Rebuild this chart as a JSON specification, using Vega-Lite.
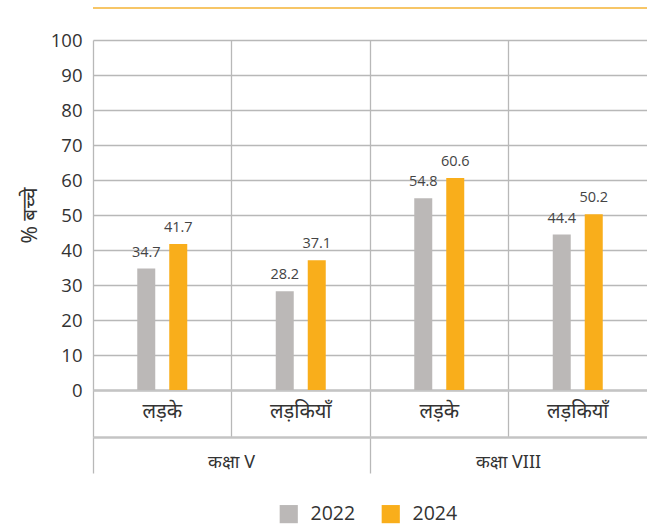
{
  "$schema": "https://vega.github.io/schema/vega-lite/v6.json",
  "width": 554,
  "height": 350,
  "padding": {"left": 19, "top": 7, "right": 0, "bottom": 0},
  "config": {
    "font": "Open Sans",
    "view": {"stroke": null},
    "axis": {"labelColor": "#333333", "titleColor": "#333333", "titleFontWeight": "normal"}
  },
  "datasets": {
    "bars": [
      {"group": "V-boys", "year": "2022", "value": 34.7},
      {"group": "V-boys", "year": "2024", "value": 41.7},
      {"group": "V-girls", "year": "2022", "value": 28.2},
      {"group": "V-girls", "year": "2024", "value": 37.1},
      {"group": "VIII-boys", "year": "2022", "value": 54.8},
      {"group": "VIII-boys", "year": "2024", "value": 60.6},
      {"group": "VIII-girls", "year": "2022", "value": 44.4},
      {"group": "VIII-girls", "year": "2024", "value": 50.2}
    ],
    "classes": [
      {"class": "कक्षा V"},
      {"class": "कक्षा VIII"}
    ],
    "topline": [
      {"level": 109.14}
    ]
  },
  "layer": [
    {
      "data": {"name": "bars"},
      "encoding": {
        "x": {
          "field": "group", "type": "nominal", "sort": null,
          "scale": {"paddingInner": 0, "paddingOuter": 0},
          "axis": {
            "title": null, "orient": "bottom",
            "bandPosition": 0, "grid": true, "gridColor": "#b8b8b8", "gridWidth": 1.3,
            "domainColor": "#c4c4c4", "domainWidth": 2.5,
            "ticks": true, "tickSize": 47, "tickColor": "#b8b8b8", "tickWidth": 1.3,
            "labelAngle": 0, "labelPadding": -36,
            "labelFontSize": 20, "labelFont": "Noto Sans",
            "labelExpr": "(datum.value == 'V-boys' || datum.value == 'VIII-boys') ? 'लड़के' : 'लड़कियाँ'"
          }
        },
        "xOffset": {
          "field": "year", "type": "nominal",
          "scale": {"domain": ["pad1", "2022", "2024", "pad2"], "paddingInner": 0.4375, "paddingOuter": 0.383}
        },
        "y": {
          "field": "value", "type": "quantitative",
          "scale": {"domain": [0, 100], "nice": false},
          "axis": {
            "title": "% बच्चे", "titleFontSize": 21, "titleFont": "Noto Sans", "titlePadding": 10,
            "values": [0, 10, 20, 30, 40, 50, 60, 70, 80, 90, 100],
            "domain": false, "ticks": false, "labelPadding": 11,
            "labelFontSize": 18.5, "grid": true, "gridColor": "#b8b8b8", "gridWidth": 1.3
          }
        }
      },
      "layer": [
        {
          "mark": {"type": "bar"},
          "encoding": {
            "color": {
              "field": "year", "type": "nominal",
              "scale": {"domain": ["2022", "2024"], "range": ["#bbb8b7", "#f9ae1b"]},
              "legend": {
                "title": null, "orient": "none", "direction": "horizontal",
                "legendX": 186, "legendY": 464,
                "symbolType": "square", "symbolSize": 330, "symbolStrokeWidth": 0,
                "labelFontSize": 19.5, "labelColor": "#333333", "columnPadding": 25, "labelOffset": 12
              }
            }
          }
        },
        {
          "mark": {"type": "text", "baseline": "bottom", "dy": -9, "fontSize": 14.5, "color": "#444444"},
          "encoding": {"text": {"field": "value", "type": "quantitative", "format": ".1f"}}
        }
      ]
    },
    {
      "data": {"name": "classes"},
      "mark": {"type": "tick", "opacity": 0},
      "encoding": {
        "x": {
          "field": "class", "type": "nominal", "sort": null,
          "scale": {"paddingInner": 0, "paddingOuter": 0},
          "axis": {
            "title": null, "orient": "bottom", "offset": 47,
            "domainColor": "#c4c4c4", "domainWidth": 2.5,
            "bandPosition": 0, "tickSize": 36, "tickColor": "#b8b8b8", "tickWidth": 1.3,
            "labelAngle": 0, "labelPadding": -20,
            "labelFontSize": 18, "labelFont": "Noto Sans"
          }
        }
      }
    },
    {
      "data": {"name": "topline"},
      "mark": {"type": "rule", "color": "#f5b335", "strokeWidth": 1.5},
      "encoding": {
        "y": {
          "field": "level", "type": "quantitative",
          "scale": {"domain": [0, 100], "nice": false},
          "axis": {
            "title": "% बच्चे", "titleFontSize": 21, "titleFont": "Noto Sans", "titlePadding": 10,
            "values": [0, 10, 20, 30, 40, 50, 60, 70, 80, 90, 100],
            "domain": false, "ticks": false, "labelPadding": 11,
            "labelFontSize": 18.5, "grid": true, "gridColor": "#b8b8b8", "gridWidth": 1.3
          }
        }
      }
    }
  ],
  "resolve": {"scale": {"x": "independent"}, "axis": {"x": "independent"}}
}
